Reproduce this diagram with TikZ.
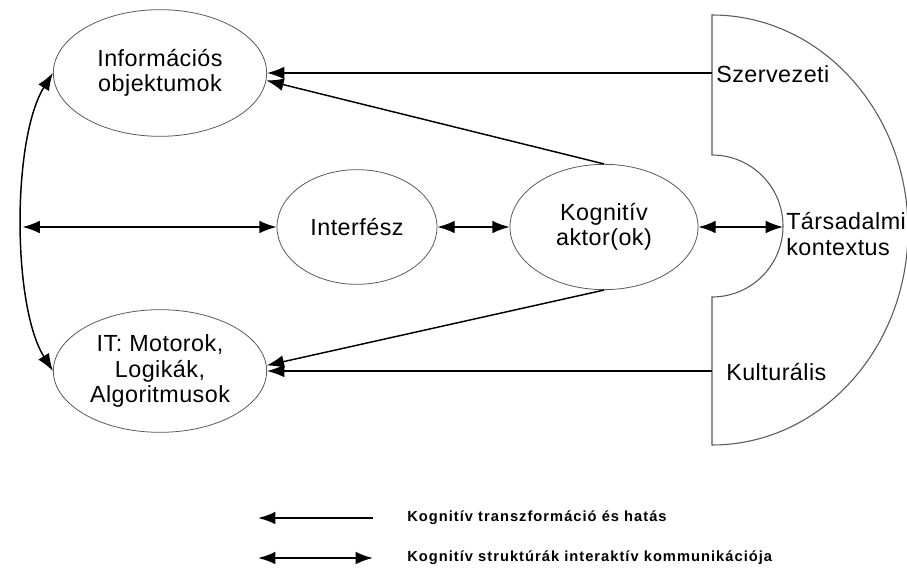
\documentclass[tikz,border=0pt]{standalone}
\usepackage{fontspec}
\setmainfont{Liberation Sans}
\usetikzlibrary{arrows.meta,shapes.geometric}

\tikzset{
  blob/.style={ellipse, draw=gray!70!black, line width=0.6pt, align=center, inner sep=0pt,
    font=\fontsize{17.5}{19}\selectfont\addfontfeatures{LetterSpace=2}},
  ctxtext/.style={anchor=west, align=left, inner sep=0pt,
    font=\fontsize{17.5}{19}\selectfont\addfontfeatures{LetterSpace=2}},
  keytext/.style={anchor=west, inner sep=0pt,
    font=\fontsize{11}{13}\selectfont\bfseries\addfontfeatures{LetterSpace=7}},
  oneway/.style={line width=1.1pt, -{Latex[length=13pt,width=9.5pt]}},
  twoway/.style={line width=1.1pt, {Latex[length=13pt,width=9.5pt]}-{Latex[length=13pt,width=9.5pt]}},
  keyline/.style={line width=1.5pt}
}

\begin{document}
\begin{tikzpicture}[x=0.75pt,y=0.75pt]
        \useasboundingbox (0,0) rectangle (907,568);
        % Draw the ellipses
        \node[blob, minimum width=160pt, minimum height=95pt] (info) at (160,495) {Információs\\objektumok};
        \node[blob, minimum width=120pt, minimum height=86pt] (interf) at (357,341) {Interfész};
        \node[blob, minimum width=141pt, minimum height=94pt] (kog) at (604,341) {Kognitív\\aktor(ok)};
        \node[blob, minimum width=160pt, minimum height=92pt] (it) at (160,197) {IT: Motorok,\\Logikák,\\Algoritmusok};
        % Draw the context shape
        \draw[gray!70!black, line width=0.8pt] (712,553) -- (712,413)
            arc[start angle=90, end angle=-90, radius=71] -- (712,123)
            arc[start angle=-90, end angle=90, x radius=196, y radius=215] -- cycle;
        \coordinate (bulge) at (783,341);
        \coordinate (szerv) at (712,495);
        \coordinate (kult) at (712,197);
        \node[ctxtext] (szervtext) at (716,494) {Szervezeti};
        \node[ctxtext] (tarstext) at (786,334) {Társadalmi\\kontextus};
        \node[ctxtext] (kulttext) at (726,196) {Kulturális};
        % Draw the arrows
        \draw[oneway] (szerv) -- (info);
        \draw[oneway] (kog.north) -- (info.-4);
        \draw[oneway] (kult) -- (it);
        \draw[oneway] (kog.south) -- (it.3);
        \draw[twoway] (info.west) .. controls (12,430) and (12,262) .. (it.west);
        \coordinate (lft) at (22.5,341);
        \draw[twoway] (lft) -- (interf);
        \draw[twoway] (interf) -- (kog);
        \draw[twoway] (kog) -- (bulge);
        % Draw the key
        \coordinate (k1a) at (258,50);
        \coordinate (k1b) at (373,50);
        \coordinate (k2a) at (258,10);
        \coordinate (k2b) at (373,10);
        \draw[oneway, keyline] (k1b) -- (k1a);
        \draw[twoway, keyline] (k2a) -- (k2b);
        \node[keytext] (key1) at (407,50) {Kognitív transzformáció és hatás};
        \node[keytext] (key2) at (407,10) {Kognitív struktúrák interaktív kommunikációja};
\end{tikzpicture}
\end{document}
